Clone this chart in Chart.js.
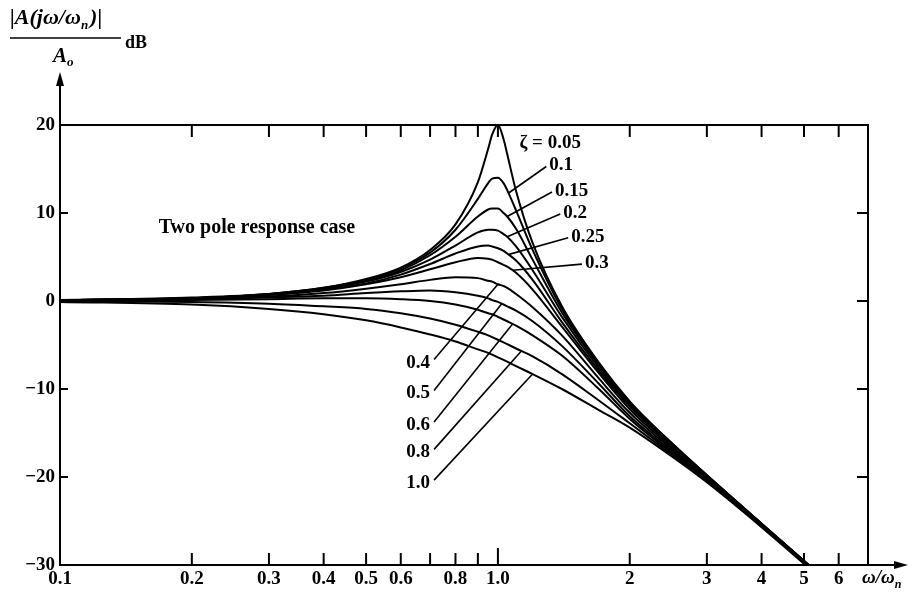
<!DOCTYPE html>
<html>
<head>
<meta charset="utf-8">
<script src="https://cdn.jsdelivr.net/npm/chart.js@4.4.0/dist/chart.umd.min.js"></script>
<style>
html, body { margin: 0; padding: 0; background: #fff; }
#wrap { width: 916px; height: 603px; position: relative; }
</style>
</head>
<body>
<div id="wrap"><canvas id="bode-chart"></canvas></div>
<script>
// normalised frequency w/wn, shared by every curve
var freqs = [0.1, 0.2, 0.3, 0.4, 0.5, 0.6, 0.7, 0.8, 0.9, 0.95, 0.97, 1.0, 1.03, 1.05, 1.1, 1.2, 1.4, 1.7, 2, 2.5, 3, 4, 6];

// gain in dB, one array per damping ratio
var gain005 = [0.1, 0.4, 0.8, 1.5, 2.5, 3.8, 5.8, 8.7, 13.5, 17.3, 18.9, 20.0, 18.4, 16.7, 12.5, 6.6, -0.6, -7.0, -11.4, -16.2, -19.8, -25.3, -33.0];
var gain01  = [0.1, 0.3, 0.8, 1.5, 2.4, 3.7, 5.5, 8.1, 11.6, 13.4, 13.9, 14.0, 13.4, 12.6, 10.3, 5.8, -0.9, -7.1, -11.5, -16.2, -19.8, -25.3, -33.0];
var gain015 = [0.1, 0.3, 0.8, 1.4, 2.3, 3.5, 5.2, 7.3, 9.6, 10.4, 10.5, 10.5, 10.0, 9.6, 8.2, 4.7, -1.3, -7.3, -11.6, -16.3, -19.8, -25.3, -33.0];
var gain02  = [0.1, 0.3, 0.7, 1.4, 2.2, 3.3, 4.7, 6.3, 7.8, 8.1, 8.1, 8.0, 7.6, 7.3, 6.2, 3.5, -1.8, -7.6, -11.8, -16.4, -19.9, -25.3, -33.0];
var gain025 = [0.1, 0.3, 0.7, 1.3, 2.0, 3.0, 4.2, 5.4, 6.2, 6.3, 6.2, 6.0, 5.7, 5.4, 4.6, 2.4, -2.4, -7.9, -12.0, -16.5, -19.9, -25.4, -33.0];
var gain03  = [0.1, 0.3, 0.7, 1.2, 1.9, 2.7, 3.6, 4.4, 4.9, 4.8, 4.7, 4.4, 4.1, 3.9, 3.2, 1.3, -2.9, -8.2, -12.3, -16.7, -20.0, -25.4, -33.0];
var gain04  = [0.1, 0.2, 0.5, 0.9, 1.4, 1.9, 2.4, 2.7, 2.6, 2.3, 2.2, 1.9, 1.7, 1.5, 0.8, -0.7, -3.9, -8.8, -12.7, -16.9, -20.1, -25.4, -33.1];
var gain05  = [0.0, 0.2, 0.4, 0.6, 0.9, 1.1, 1.2, 1.0, 0.6, 0.3, 0.1, -0.1, -0.4, -0.6, -1.1, -2.3, -5.1, -9.4, -13.1, -17.1, -20.2, -25.5, -33.1];
var gain06  = [0.0, 0.1, 0.2, 0.3, 0.3, 0.2, 0.0, -0.4, -1.0, -1.4, -1.5, -1.8, -2.1, -2.3, -2.8, -3.9, -6.2, -10.0, -13.4, -17.3, -20.3, -25.5, -33.1];
var gain08  = [0.0, -0.1, -0.3, -0.6, -0.9, -1.4, -2.0, -2.7, -3.5, -3.9, -4.1, -4.4, -4.7, -4.9, -5.4, -6.3, -8.3, -11.3, -13.9, -17.5, -20.4, -25.6, -33.2];
var gain10  = [-0.1, -0.4, -0.9, -1.5, -2.2, -3.0, -3.8, -4.6, -5.5, -5.9, -6.1, -6.4, -6.7, -6.9, -7.4, -8.3, -10.0, -12.4, -14.4, -17.7, -20.6, -25.7, -33.3];

var zetas = ["0.05", "0.1", "0.15", "0.2", "0.25", "0.3", "0.4", "0.5", "0.6", "0.8", "1.0"];
var curves = [gain005, gain01, gain015, gain02, gain025, gain03, gain04, gain05, gain06, gain08, gain10];

// axis ticks
var xTicks = [0.1, 0.2, 0.3, 0.4, 0.5, 0.6, 0.8, 1, 2, 3, 4, 5, 6];
var xTickLabels = ["0.1", "0.2", "0.3", "0.4", "0.5", "0.6", "0.8", "1.0", "2", "3", "4", "5", "6"];
var xMarks = [0.2, 0.3, 0.4, 0.5, 0.6, 0.7, 0.8, 0.9, 1, 2, 3, 4, 5, 6];
var yTicks = [20, 10, 0, -10, -20, -30];
var yTickLabels = ["20", "10", "0", "\u221210", "\u221220", "\u221230"];
var yMarks = [10, 0, -10, -20];

// curve labels: text anchor and end of the leader, in data units
var upperNotes = [
  { text: "\u03b6 = 0.05", at: [1.12, 17.9], to: null },
  { text: "0.1",  at: [1.31, 15.4], to: [1.06, 12.3] },
  { text: "0.15", at: [1.35, 12.5], to: [1.05, 9.6] },
  { text: "0.2",  at: [1.41, 10.0], to: [1.05, 7.3] },
  { text: "0.25", at: [1.47, 7.3],  to: [1.06, 5.3] },
  { text: "0.3",  at: [1.58, 4.3],  to: [1.08, 3.5] }
];
var lowerNotes = [
  { text: "0.4", at: [0.70, -7.0],  to: [1.0, 1.9] },
  { text: "0.5", at: [0.70, -10.5], to: [1.02, -0.3] },
  { text: "0.6", at: [0.70, -14.1], to: [1.08, -2.6] },
  { text: "0.8", at: [0.70, -17.2], to: [1.13, -5.7] },
  { text: "1.0", at: [0.70, -20.7], to: [1.2, -8.3] }
];

var serif = "'Liberation Serif', 'DejaVu Serif', serif";
Chart.defaults.font.family = serif;
Chart.defaults.color = "#000";

function line(ctx, x1, y1, x2, y2) {
  ctx.beginPath();
  ctx.moveTo(x1, y1);
  ctx.lineTo(x2, y2);
  ctx.stroke();
}

var decorations = {
  id: 'decorations',
  afterDraw: function(chart) {
    var ctx = chart.ctx, xs = chart.scales.x, ys = chart.scales.y, a = chart.chartArea;
    ctx.save();
    ctx.strokeStyle = "#000";
    ctx.fillStyle = "#000";
    ctx.lineWidth = 2;
    ctx.strokeRect(a.left, a.top, a.right - a.left, a.bottom - a.top);

    // axis arrows
    line(ctx, a.left, a.top, a.left, 80);
    ctx.beginPath();
    ctx.moveTo(a.left, 72); ctx.lineTo(a.left - 4, 86); ctx.lineTo(a.left + 4, 86); ctx.closePath(); ctx.fill();
    line(ctx, a.right, a.bottom, 900, a.bottom);
    ctx.beginPath();
    ctx.moveTo(908, a.bottom); ctx.lineTo(894, a.bottom - 4); ctx.lineTo(894, a.bottom + 4); ctx.closePath(); ctx.fill();

    // inward tick marks
    xMarks.forEach(function(v) {
      var px = xs.getPixelForValue(v);
      line(ctx, px, a.bottom, px, a.bottom - (v === 1 ? 17 : 12));
      line(ctx, px, a.top, px, a.top + 12);
    });
    yMarks.forEach(function(v) {
      var py = ys.getPixelForValue(v);
      if (v !== 0) line(ctx, a.left, py, a.left + 8, py);
      line(ctx, a.right, py, a.right - 11, py);
    });

    // y axis title, written as a fraction
    ctx.textBaseline = "alphabetic";
    ctx.textAlign = "left";
    var x = 10;
    ctx.font = "bold italic 22px " + serif;
    ctx.fillText("|A(j\u03c9/\u03c9", x, 24);
    x += ctx.measureText("|A(j\u03c9/\u03c9").width;
    ctx.font = "bold italic 13px " + serif;
    ctx.fillText("n", x, 29);
    x += ctx.measureText("n").width + 2;
    ctx.font = "bold italic 22px " + serif;
    ctx.fillText(")|", x, 24);
    ctx.lineWidth = 1.5;
    line(ctx, 10, 38, 121, 38);
    ctx.font = "bold 18px " + serif;
    ctx.fillText("dB", 125, 48);
    ctx.font = "bold italic 21px " + serif;
    ctx.fillText("A", 53, 62);
    ctx.font = "bold italic 13px " + serif;
    ctx.fillText("o", 67, 66);

    // x axis name
    ctx.font = "bold italic 19px " + serif;
    ctx.fillText("\u03c9/\u03c9", 862, 583);
    var w = ctx.measureText("\u03c9/\u03c9").width;
    ctx.font = "bold italic 12px " + serif;
    ctx.fillText("n", 862 + w, 588);

    // caption
    ctx.font = "bold 20px " + serif;
    ctx.textAlign = "center";
    ctx.textBaseline = "middle";
    ctx.fillText("Two pole response case", 257, 228);

    // damping ratio labels with leaders
    ctx.font = "bold 19px " + serif;
    ctx.lineWidth = 1.6;
    upperNotes.forEach(function(n) {
      var px = xs.getPixelForValue(n.at[0]), py = ys.getPixelForValue(n.at[1]);
      ctx.textAlign = "left";
      ctx.fillText(n.text, px, py);
      if (n.to) line(ctx, px - 3, py + 1, xs.getPixelForValue(n.to[0]), ys.getPixelForValue(n.to[1]));
    });
    lowerNotes.forEach(function(n) {
      var px = xs.getPixelForValue(n.at[0]), py = ys.getPixelForValue(n.at[1]);
      ctx.textAlign = "right";
      ctx.fillText(n.text, px, py);
      line(ctx, px + 4, py - 3, xs.getPixelForValue(n.to[0]), ys.getPixelForValue(n.to[1]));
    });
    ctx.restore();
  }
};

new Chart(document.getElementById("bode-chart"), {
  type: 'line',
  data: {
    datasets: curves.map(function(vals, i) {
      return {
        label: "\u03b6 = " + zetas[i],
        data: freqs.map(function(f, j) { return { x: f, y: vals[j] }; }),
        borderColor: "#000",
        borderWidth: 2,
        pointRadius: 0,
        fill: false,
        cubicInterpolationMode: 'monotone'
      };
    })
  },
  options: {
    responsive: true,
    maintainAspectRatio: false,
    animation: false,
    layout: { padding: { top: 125, right: 48, left: 0, bottom: 0 } },
    plugins: {
      legend: { display: false },
      tooltip: { enabled: false }
    },
    scales: {
      x: {
        type: 'logarithmic',
        min: 0.1,
        max: 7,
        grid: { display: false, drawTicks: false },
        border: { display: false },
        afterBuildTicks: function(s) { s.ticks = xTicks.map(function(v) { return { value: v }; }); },
        afterFit: function(s) { s.height = 38; },
        ticks: {
          autoSkip: false,
          maxRotation: 0,
          padding: 3,
          font: { size: 19, weight: 'bold' },
          callback: function(v, i) { return xTickLabels[i]; }
        }
      },
      y: {
        min: -30,
        max: 20,
        grid: { display: false, drawTicks: false },
        border: { display: false },
        afterBuildTicks: function(s) { s.ticks = yTicks.map(function(v) { return { value: v }; }); },
        afterFit: function(s) { s.width = 60; },
        ticks: {
          padding: 5,
          font: { size: 19, weight: 'bold' },
          callback: function(v, i) { return yTickLabels[i]; }
        }
      }
    }
  },
  plugins: [decorations]
});
</script>
</body>
</html>
